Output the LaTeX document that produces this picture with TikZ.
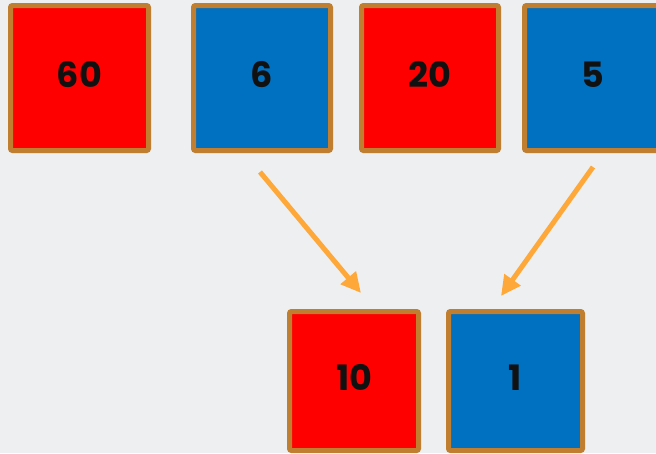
\documentclass[tikz,border=0pt]{standalone}
\usepackage{fontspec}
\setmainfont{Poppins}[BoldFont={* Bold}]
\usetikzlibrary{arrows.meta}
\definecolor{bg}{HTML}{EEEFF1}
\definecolor{redbox}{HTML}{FF0000}
\definecolor{bluebox}{HTML}{0070C0}
\definecolor{rim}{HTML}{C07F30}
\definecolor{arrowc}{HTML}{FFA83A}
\definecolor{ink}{HTML}{111111}
\tikzset{
  tile/.style={draw=rim, line width=5pt, rounded corners=2pt, inner sep=0pt,
    text=ink, font=\fontsize{35}{35}\selectfont\bfseries,
    text height=25pt, text depth=6pt},
  redtile/.style={tile, fill=redbox},
  bluetile/.style={tile, fill=bluebox},
  link/.style={draw=arrowc, line width=5pt, -{Triangle[length=20pt,width=19pt]}}
}
\begin{document}
\begin{tikzpicture}[x=1pt,y=-1pt]
\useasboundingbox (0,0) rectangle (656,453);
\fill[bg] (0,0) rectangle (656,453);
\clip (0,0) rectangle (656,453);
\node[redtile, minimum width=138pt, minimum height=145pt] (n60) at (79.5,78) {60};
\node[bluetile, minimum width=137pt, minimum height=145pt] (n6) at (262,78) {6};
\node[redtile, minimum width=137pt, minimum height=145pt] (n20) at (430,78) {20};
\node[bluetile, minimum width=137pt, minimum height=145pt] (n5) at (593,78) {5};
\node[redtile, minimum width=129pt, minimum height=139pt] (n10) at (354,381) {10};
\node[bluetile, minimum width=134pt, minimum height=139pt] (n1) at (515.5,381) {1};
\coordinate (s1) at (260,172);
\coordinate (t1) at (361,293);
\coordinate (s2) at (593,167);
\coordinate (t2) at (501,296);
\draw[link] (s1) -- (t1);
\draw[link] (s2) -- (t2);
\end{tikzpicture}
\end{document}
